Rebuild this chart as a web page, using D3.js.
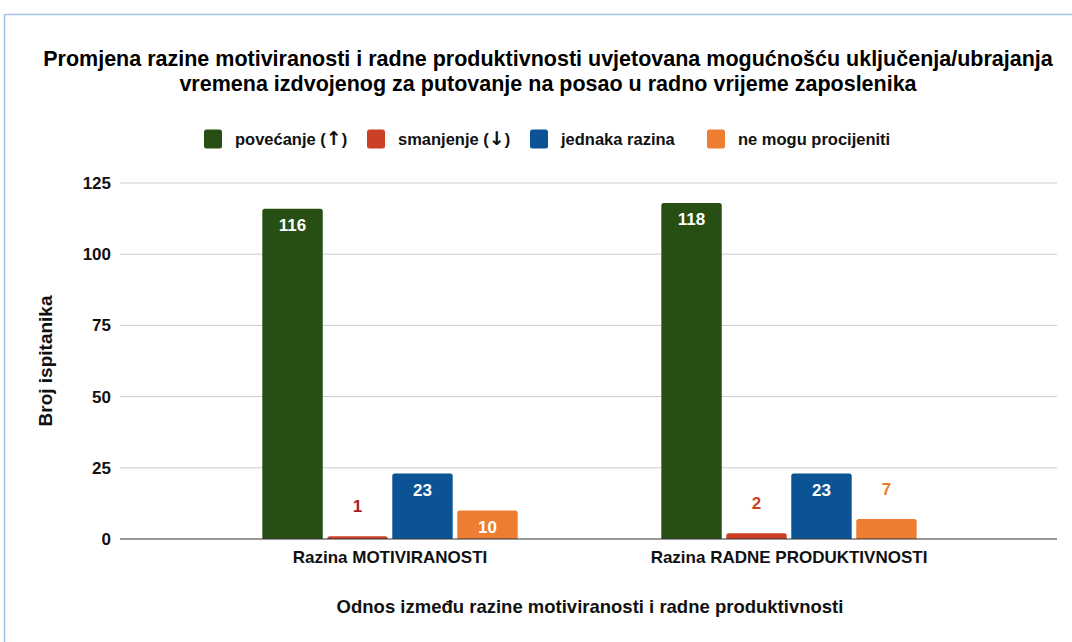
<!DOCTYPE html>
<html>
<head>
<meta charset="utf-8">
<script src="https://cdn.jsdelivr.net/npm/d3@7"></script>
<style>
  html, body { margin: 0; padding: 0; background: #fff; }
  svg { display: block; font-family: "Liberation Sans", Arial, sans-serif; }
</style>
</head>
<body>
<svg id="chart" width="1072" height="642"></svg>
<script>
// Categories on the x axis
const categories = ["Razina MOTIVIRANOSTI", "Razina RADNE PRODUKTIVNOSTI"];
// Response series: label text, optional arrow glyph
const seriesNames = ["povećanje", "smanjenje", "jednaka razina", "ne mogu procijeniti"];
const seriesArrows = ["↑", "↓", "", ""];
const seriesColors = ["#274e13", "#cc4125", "#0b5394", "#ed7d31"];
// Values per series, one entry per category
const povecanje = [116, 118];
const smanjenje = [1, 2];
const jednaka = [23, 23];
const neMogu = [10, 7];
const yTicks = [0, 25, 50, 75, 100, 125];
// Colours of the value labels drawn above short bars (per series, per category)
const outsideLabelColors = [
  ["#274e13", "#274e13"],
  ["#a61c1c", "#cc4125"],
  ["#0b5394", "#0b5394"],
  ["#ed7d31", "#ed7d31"]
];

const seriesValues = [povecanje, smanjenje, jednaka, neMogu];
const font = "Liberation Sans, Arial, sans-serif";

const svg = d3.select("#chart");

// Frame
svg.append("path")
  .attr("d", "M4.5,642 L4.5,14.5 L1072,14.5")
  .attr("fill", "none")
  .attr("stroke", "#a4c2e6")
  .attr("stroke-width", 1.5);

// Title
const title = svg.append("text")
  .attr("text-anchor", "middle")
  .attr("font-weight", "bold")
  .attr("font-size", 21.5)
  .attr("fill", "#000");
title.append("tspan").attr("x", 548).attr("y", 66)
  .text("Promjena razine motiviranosti i radne produktivnosti uvjetovana mogućnošću uključenja/ubrajanja");
title.append("tspan").attr("x", 548).attr("y", 91)
  .text("vremena izdvojenog za putovanje na posao u radno vrijeme zaposlenika");

// Legend
const legendX = [204, 367, 530, 707];
const legend = svg.append("g");
seriesNames.forEach((name, i) => {
  legend.append("rect")
    .attr("x", legendX[i]).attr("y", 129.5)
    .attr("width", 18).attr("height", 19)
    .attr("rx", 2.5)
    .attr("fill", seriesColors[i]);
  const t = legend.append("text")
    .attr("x", legendX[i] + 31).attr("y", 144.5)
    .attr("font-size", 16.5).attr("font-weight", "bold")
    .attr("fill", "#111");
  if (seriesArrows[i]) {
    t.append("tspan").text(name + " (");
    t.append("tspan")
      .attr("font-family", "DejaVu Sans, sans-serif")
      .attr("font-size", 19)
      .attr("dy", 0.5)
      .text(seriesArrows[i]);
    t.append("tspan").attr("dy", -0.5).text(")");
  } else {
    t.text(name);
  }
});

// Scales
const plotLeft = 120, plotRight = 1057;
const y = d3.scaleLinear().domain([0, 125]).range([539, 183]);
const x0 = d3.scaleBand().domain(categories).range([190.5, 988.5]).paddingInner(0).paddingOuter(0);
const x1 = d3.scaleBand().domain(d3.range(seriesNames.length))
  .range([x0.bandwidth() * 0.18, x0.bandwidth() * 0.82]).paddingInner(0.07);

// Gridlines
svg.append("g")
  .selectAll("line")
  .data(yTicks.filter(t => t > 0))
  .join("line")
  .attr("x1", plotLeft).attr("x2", plotRight)
  .attr("y1", d => y(d)).attr("y2", d => y(d))
  .attr("stroke", "#cccccc").attr("stroke-width", 1);

// Y axis tick labels
const yAxis = svg.append("g")
  .attr("transform", `translate(${plotLeft},0)`)
  .call(d3.axisLeft(y).tickValues(yTicks).tickSize(0).tickPadding(9));
yAxis.select(".domain").remove();
yAxis.selectAll("text")
  .attr("font-family", font)
  .attr("font-size", 17).attr("font-weight", "bold").attr("fill", "#111");

// Bars
const bars = svg.append("g");
categories.forEach((cat, ci) => {
  seriesValues.forEach((vals, si) => {
    const v = vals[ci];
    const bx = x0(cat) + x1(si);
    const bw = x1.bandwidth();
    const top = y(v);
    const h = y(0) - top;
    const r = Math.min(2.5, h);
    bars.append("path")
      .attr("d", `M${bx},${y(0)} L${bx},${top + r} Q${bx},${top} ${bx + r},${top} L${bx + bw - r},${top} Q${bx + bw},${top} ${bx + bw},${top + r} L${bx + bw},${y(0)} Z`)
      .attr("fill", seriesColors[si]);
    const inside = h > 24;
    bars.append("text")
      .attr("x", bx + bw / 2)
      .attr("y", inside ? top + 22.5 : top - 24)
      .attr("text-anchor", "middle")
      .attr("font-size", 17).attr("font-weight", "bold")
      .attr("fill", inside ? "#ffffff" : outsideLabelColors[si][ci])
      .text(v);
  });
});

// Baseline
svg.append("line")
  .attr("x1", plotLeft).attr("x2", plotRight)
  .attr("y1", y(0)).attr("y2", y(0))
  .attr("stroke", "#333").attr("stroke-width", 1.2);

// Category labels
const xAxis = svg.append("g")
  .attr("transform", `translate(0,${y(0)})`)
  .call(d3.axisBottom(x0).tickSize(0).tickPadding(12));
xAxis.select(".domain").remove();
xAxis.selectAll("text")
  .attr("font-family", font)
  .attr("font-size", 17).attr("font-weight", "bold").attr("fill", "#111");

// Axis titles
svg.append("text")
  .attr("x", 590).attr("y", 613)
  .attr("text-anchor", "middle")
  .attr("font-size", 18.5).attr("font-weight", "bold").attr("fill", "#111")
  .text("Odnos između razine motiviranosti i radne produktivnosti");

svg.append("text")
  .attr("transform", "translate(52,361) rotate(-90)")
  .attr("text-anchor", "middle")
  .attr("font-size", 19).attr("font-weight", "bold").attr("fill", "#111")
  .text("Broj ispitanika");
</script>
</body>
</html>
